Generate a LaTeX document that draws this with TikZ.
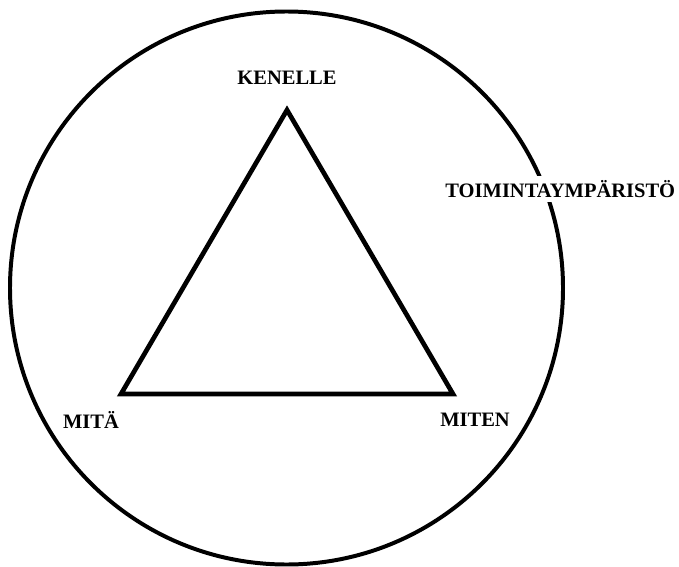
\documentclass[tikz,border=0pt]{standalone}
\usepackage{fontspec}
\setmainfont{Liberation Serif}
\usetikzlibrary{positioning,calc}

\begin{document}
\begin{tikzpicture}[
    x=0.03cm, y=-0.03cm,
    ring/.style={draw, line width=3.4pt},
    edge/.style={draw, line width=4pt, line join=miter},
    lbl/.style={font=\fontsize{17.5}{20}\selectfont\bfseries, inner sep=0pt}
]
    \useasboundingbox (0,0) rectangle (679,567);

    % Environment circle
    \coordinate (centre) at (286.5,288);
    \draw[ring] (centre) circle[radius=276.5*0.03cm];

    % Triangle corners
    \coordinate (top) at (287,110);
    \coordinate (left) at (121,394);
    \coordinate (right) at (453,394);
    \draw[edge] (top) -- (left) -- (right) -- cycle;

    % Labels
    \node[lbl] (kenelle) at (287,78) {KENELLE};
    \node[lbl] (mita) at (91,420) {MITÄ};
    \node[lbl] (miten) at (475,420) {MITEN};
    \node[lbl, anchor=west, fill=white, inner ysep=4pt, inner xsep=1pt] (env) at (444,189) {TOIMINTAYMPÄRISTÖ};
\end{tikzpicture}
\end{document}
